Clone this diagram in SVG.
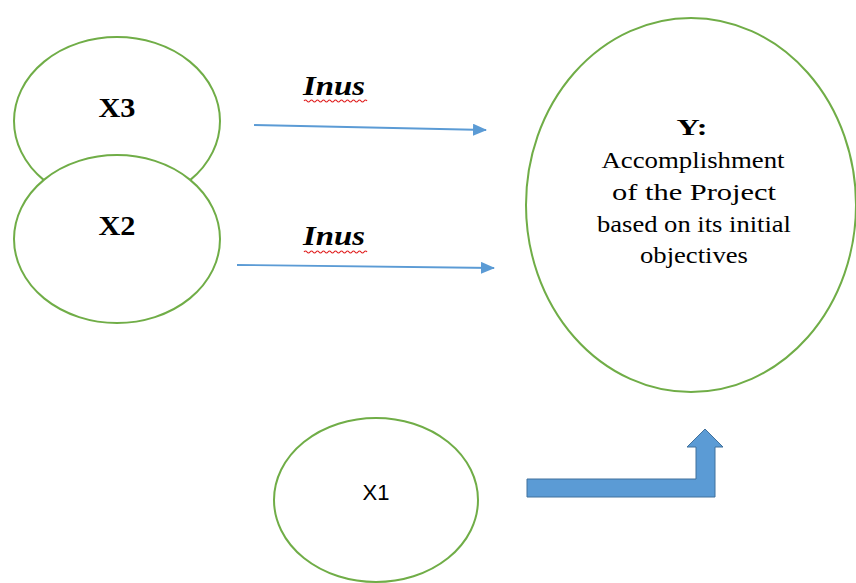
<svg xmlns="http://www.w3.org/2000/svg" width="856" height="583" viewBox="0 0 856 583">
<style>
.node{fill:#fff;stroke:#70ad47;stroke-width:2}
.lbl{font-family:"Liberation Serif",serif;font-size:24px;fill:#000;text-anchor:middle}
.xl{font-family:"Liberation Serif",serif;font-size:27px;font-weight:bold;fill:#000;text-anchor:middle}
.inus{font-family:"Liberation Serif",serif;font-size:28px;font-weight:bold;font-style:italic;fill:#000}
.conn{stroke:#5b9bd5;stroke-width:1.8;fill:none}
.sq{stroke:#e02020;stroke-width:1.2;fill:none}
</style>
<defs>
<marker id="ah" markerWidth="14" markerHeight="12" refX="13" refY="6" orient="auto" markerUnits="userSpaceOnUse" viewBox="0 0 14 12">
<path d="M0,0 L14,6 L0,12 Z" fill="#5b9bd5"/>
</marker>
</defs>
<rect width="856" height="583" fill="#fff"/>
<g id="X3"><ellipse class="node" cx="117" cy="121" rx="103" ry="84"/><text class="xl" x="117" y="117" textLength="37" lengthAdjust="spacingAndGlyphs">X3</text></g>
<g id="X2"><ellipse class="node" cx="117" cy="239" rx="103" ry="84"/><text class="xl" x="117" y="235" textLength="37" lengthAdjust="spacingAndGlyphs">X2</text></g>
<g id="Y"><ellipse class="node" cx="691" cy="205" rx="165" ry="187"/>
<text class="lbl" x="692" y="135" font-weight="bold" textLength="31" lengthAdjust="spacingAndGlyphs">Y:</text>
<text class="lbl" x="693" y="168" textLength="183" lengthAdjust="spacingAndGlyphs">Accomplishment</text>
<text class="lbl" x="694" y="200" textLength="164" lengthAdjust="spacingAndGlyphs">of the Project</text>
<text class="lbl" x="694" y="232" textLength="194" lengthAdjust="spacingAndGlyphs">based on its initial</text>
<text class="lbl" x="694" y="263" textLength="108" lengthAdjust="spacingAndGlyphs">objectives</text>
</g>
<g id="X1"><ellipse class="node" cx="376" cy="500" rx="102" ry="82"/><text x="376" y="500" style="font-family:'Liberation Sans',sans-serif;font-size:22px;text-anchor:middle">X1</text></g>
<g id="connectors">
<line class="conn" x1="254" y1="125" x2="486" y2="130" marker-end="url(#ah)"/>
<line class="conn" x1="237" y1="265" x2="494" y2="268" marker-end="url(#ah)"/>
<path d="M527,479 L696,479 L696,447 L687,447 L705,429 L723,447 L715,447 L715,497 L527,497 Z" fill="#5b9bd5" stroke="#41719c" stroke-width="1"/>
<text class="inus" x="303" y="95" textLength="62" lengthAdjust="spacingAndGlyphs">Inus</text>
<path class="sq" d="M304,101 q1.5,-2 3,0 t3,0 t3,0 t3,0 t3,0 t3,0 t3,0 t3,0 t3,0 t3,0 t3,0 t3,0 t3,0 t3,0 t3,0 t3,0 t3,0 t3,0 t3,0 t3,0 t3,0"/>
<text class="inus" x="303" y="245" textLength="62" lengthAdjust="spacingAndGlyphs">Inus</text>
<path class="sq" d="M304,252 q1.5,-2 3,0 t3,0 t3,0 t3,0 t3,0 t3,0 t3,0 t3,0 t3,0 t3,0 t3,0 t3,0 t3,0 t3,0 t3,0 t3,0 t3,0 t3,0 t3,0 t3,0 t3,0"/>
</g>
</svg>
